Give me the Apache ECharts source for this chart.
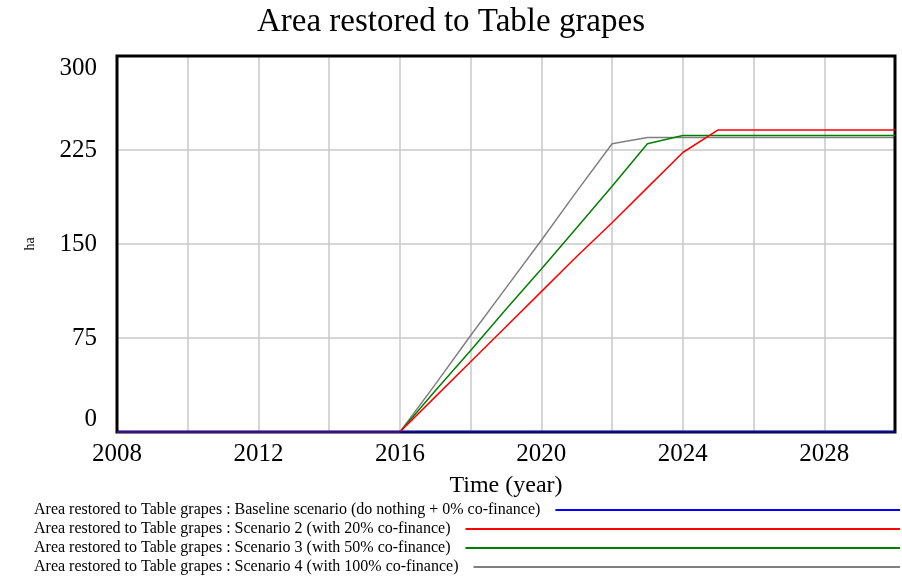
<!DOCTYPE html>
<html>
<head>
<meta charset="utf-8">
<script src="https://cdn.jsdelivr.net/npm/echarts@6/dist/echarts.min.js"></script>
<style>
  html, body { margin: 0; padding: 0; background: #fff; }
  #chart { width: 902px; height: 579px; }
</style>
</head>
<body>
<div id="chart"></div>
<script>
const years = [2008, 2009, 2010, 2011, 2012, 2013, 2014, 2015, 2016, 2017, 2018, 2019,
  2020, 2021, 2022, 2023, 2024, 2025, 2026, 2027, 2028, 2029, 2030]
const baseline = [0, 0, 0, 0, 0, 0, 0, 0, 0, 0, 0, 0, 0, 0, 0, 0, 0, 0, 0, 0, 0, 0, 0]
const scenario2 = [0, 0, 0, 0, 0, 0, 0, 0, 0, 28, 56, 84, 112, 140, 167, 195, 223, 241, 241, 241, 241, 241, 241]
const scenario3 = [0, 0, 0, 0, 0, 0, 0, 0, 0, 33, 65, 98, 130, 163, 196, 230, 236.5, 236.5, 236.5, 236.5, 236.5, 236.5, 236.5]
const scenario4 = [0, 0, 0, 0, 0, 0, 0, 0, 0, 38, 77, 115, 153, 192, 230, 235, 235, 235, 235, 235, 235, 235, 235]
const yTicks = [0, 75, 150, 225, 300]

const serif = '"Liberation Serif", "Times New Roman", serif'
const prefix = 'Area restored to Table grapes : '
const names = [
  prefix + 'Baseline scenario (do nothing + 0% co-finance)',
  prefix + 'Scenario 2 (with 20% co-finance)',
  prefix + 'Scenario 3 (with 50% co-finance)',
  prefix + 'Scenario 4 (with 100% co-finance)'
]
const colors = ['#0000ff', '#ff0000', '#008000', '#808080']
const values = [baseline, scenario2, scenario3, scenario4]
const legendTops = [502, 521, 540, 559]
const legendFont = 16
const legendLeft = 34
const legendEnd = 900

// legend line runs from just after the text to the right edge
function legendWidth(name) {
  const w = echarts.format.getTextRect
    ? echarts.format.getTextRect(name, legendFont + 'px ' + serif).width
    : name.length * 6.5
  return legendEnd - (legendLeft + w + 15)
}

function pairs(arr) {
  return years.map((y, i) => [y, arr[i]])
}

const chart = echarts.init(document.getElementById('chart'))

const option = {
  animation: false,
  backgroundColor: '#fff',
  title: {
    text: 'Area restored to Table grapes',
    left: 'center',
    top: 1,
    textStyle: { fontFamily: serif, fontSize: 33, fontWeight: 'normal', color: '#000' }
  },
  legend: names.map((n, i) => ({
    data: [{ name: n, icon: 'rect' }],
    left: legendLeft,
    top: legendTops[i],
    orient: 'vertical',
    align: 'right',
    itemWidth: legendWidth(n),
    itemHeight: 2,
    padding: 0,
    selectedMode: false,
    textStyle: { fontFamily: serif, fontSize: legendFont, color: '#000', padding: [0, 10, 0, 0] }
  })),
  grid: {
    left: 117,
    right: 7,
    top: 56,
    bottom: 147,
    show: true,
    borderColor: '#000',
    borderWidth: 3,
    z: 3
  },
  xAxis: {
    type: 'value',
    min: 2008,
    max: 2030,
    interval: 2,
    name: 'Time (year)',
    nameLocation: 'middle',
    nameGap: 42,
    nameTextStyle: { fontFamily: serif, fontSize: 24, color: '#000' },
    axisLine: { show: false },
    axisTick: { show: false },
    splitLine: { showMinLine: false, showMaxLine: false, lineStyle: { color: '#c8c8c8', width: 1.5 } },
    axisLabel: {
      fontFamily: serif,
      fontSize: 25,
      color: '#000',
      margin: 10,
      showMaxLabel: false,
      formatter: v => ((v - 2008) % 4 === 0 ? String(v) : '')
    }
  },
  yAxis: {
    type: 'value',
    min: yTicks[0],
    max: yTicks[yTicks.length - 1],
    interval: 75,
    name: 'ha',
    nameLocation: 'middle',
    nameGap: 80,
    nameRotate: 90,
    nameTextStyle: { fontFamily: serif, fontSize: 14, color: '#000' },
    axisLine: { show: false },
    axisTick: { show: false },
    splitLine: { showMinLine: false, showMaxLine: false, lineStyle: { color: '#c8c8c8', width: 1.5 } },
    axisLabel: {
      fontFamily: serif,
      fontSize: 25,
      color: '#000',
      margin: 20,
      verticalAlignMinLabel: 'bottom',
      verticalAlignMaxLabel: 'top'
    }
  },
  series: names.map((n, i) => ({
    name: n,
    type: 'line',
    data: pairs(values[i]),
    symbol: 'none',
    color: colors[i],
    lineStyle: { width: 1.5, color: colors[i] },
    z: i === 0 ? 10 : 5 - i
  }))
}

chart.setOption(option)
</script>
</body>
</html>
